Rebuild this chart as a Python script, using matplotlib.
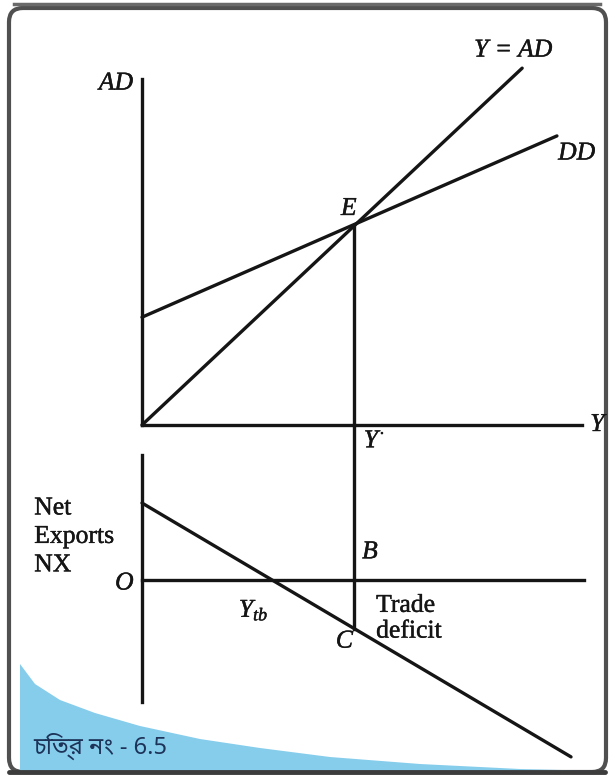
import matplotlib
matplotlib.use("Agg")
import matplotlib.pyplot as plt
import matplotlib.patheffects as pe
from matplotlib.patches import FancyBboxPatch, Polygon

# size of the page (pixels at 100 dpi)
W, H = 612, 778
S = 44.0  # pixels per unit of income

# pixel position of the origins of the two panels
top_org = (142, 425)
bot_org = (142, 580)

# upper panel: aggregate demand
y_axis_top = 7.86
x_axis_end = 10.0
ad45_x = [0, 8.64]
ad45_y = [0, 8.11]
dd_x = [0, 9.43]
dd_y = [2.45, 6.57]
E = (4.82, 4.53)

# lower panel: net exports
nx_axis_top = 2.84
nx_axis_bot = -2.77
nx_axis_end = 10.05
nx_x = [0, 9.75]
nx_y = [1.75, -4.02]
C_y = -1.11

ink = "#151515"
lw = 2.4
serif = "Liberation Serif"

plt.rcParams["mathtext.fontset"] = "custom"
plt.rcParams["mathtext.it"] = "Liberation Serif:italic"
plt.rcParams["mathtext.rm"] = "Liberation Serif"

thick = [pe.withStroke(linewidth=0.3, foreground=ink)]

fig = plt.figure(figsize=(W / 100, H / 100), dpi=100)

# background axes for page frame and blue corner
bg = fig.add_axes([0, 0, 1, 1])
bg.set_xlim(0, W)
bg.set_ylim(H, 0)
bg.axis("off")
frame = FancyBboxPatch((9, 8), 597, 764, boxstyle="round,pad=0,rounding_size=14",
                       fc="white", ec="#505050", lw=3.0)
bg.add_patch(frame)
bg.plot([14, 600], [4, 4], color="#6a6a6a", lw=2.5)
blue = Polygon([(20, 664), (35, 684), (60, 700), (95, 713), (140, 726), (200, 739),
                (260, 748), (330, 757), (420, 764), (520, 769), (604, 771),
                (604, 771), (20, 771)], closed=True, fc="#86cdec", ec="none")
bg.add_patch(blue)
bg.plot([9, 605], [772, 772], color="#3c3c3c", lw=3.5, solid_capstyle="round")


def panel(org):
    ax = fig.add_axes([0, 0, 1, 1])
    ax.set_xlim(-org[0] / S, (W - org[0]) / S)
    ax.set_ylim(-(H - org[1]) / S, org[1] / S)
    ax.axis("off")
    ax.patch.set_alpha(0)
    return ax


ax1 = panel(top_org)
ax2 = panel(bot_org)
gap = (bot_org[1] - top_org[1]) / S

# upper panel
ax1.plot([0, 0], [0, y_axis_top], color=ink, lw=lw)
ax1.plot([0, x_axis_end], [0, 0], color=ink, lw=lw)
ax1.plot(ad45_x, ad45_y, color=ink, lw=lw, solid_capstyle="round")
ax1.plot(dd_x, dd_y, color=ink, lw=lw, solid_capstyle="round")
ax1.plot([E[0], E[0]], [0, E[1]], color=ink, lw=lw)

it = dict(family=serif, style="italic", fontsize=18.5, color=ink, path_effects=thick)
ax1.text(-0.2, y_axis_top - 0.1, "AD", ha="right", va="center", **it)
ax1.text(ad45_x[1] - 0.2, ad45_y[1] + 0.4, "Y = AD", ha="center", va="center", **it)
ax1.text(dd_x[1] + 0.45, dd_y[1] - 0.4, "DD", ha="center", va="center", **it)
ax1.text(E[0] - 0.12, E[1] + 0.38, "E", ha="center", va="center", **it)
ax1.text(x_axis_end + 0.35, 0, "Y", ha="center", va="center", **it)
ax1.text(E[0] + 0.22, -0.35, r"$Y^{\bullet}$", ha="left", va="center",
         fontsize=18.5, color=ink, path_effects=thick)

# lower panel
ax2.plot([0, 0], [nx_axis_bot, nx_axis_top], color=ink, lw=lw)
ax2.plot([0, nx_axis_end], [0, 0], color=ink, lw=lw)
ax2.plot(nx_x, nx_y, color=ink, lw=lw, solid_capstyle="round")
ax2.plot([E[0], E[0]], [gap, C_y], color=ink, lw=lw)

rm = dict(family=serif, fontsize=18.5, color=ink, path_effects=thick)
ax2.text(-2.45, 0.98, "Net\nExports\nNX", ha="left", va="center", linespacing=1.38, **rm)
ax2.text(-0.4, -0.08, "O", ha="center", va="center", **it)
ax2.text(2.2, -0.68, r"$Y_{tb}$", ha="left", va="center", fontsize=18.5, color=ink,
         path_effects=thick)
ax2.text(E[0] + 0.36, 0.63, "B", ha="center", va="center", **it)
ax2.text(E[0] + 0.5, -0.88, "Trade\ndeficit", ha="left", va="center", linespacing=1.22, **rm)
ax2.text(E[0] - 0.22, -1.4, "C", ha="center", va="center", **it)

# figure caption in the blue corner
bg.text(33, 746, "চিত্র নং - 6.5", ha="left", va="center", fontsize=17, color="#1d3358",
        family=["Noto Sans Bengali", "Noto Serif Bengali", "Lohit Bengali", "FreeSans",
                "DejaVu Sans"])

fig.savefig("out.png", dpi=100)
